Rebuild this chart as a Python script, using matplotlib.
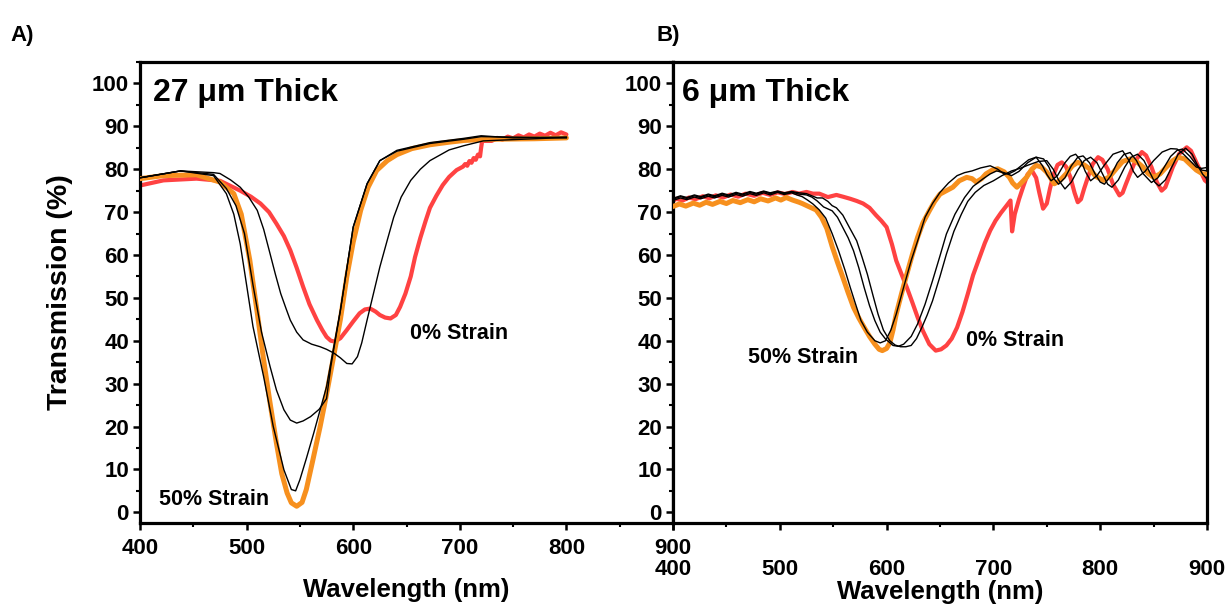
import matplotlib
matplotlib.use("Agg")
import matplotlib.pyplot as plt
from matplotlib.ticker import MultipleLocator

plt.rcParams['font.family'] = ['Liberation Sans', 'DejaVu Sans']
plt.rcParams['font.weight'] = 'bold'

# ---------------- Panel A : 27 um thick ----------------
a_red_x = [400, 422, 453, 475, 494, 504, 513, 521, 528, 535, 541, 547, 553, 559, 566, 571, 575, 579, 583, 588,
           594, 600, 606, 611, 616, 621, 625, 630, 635, 640, 644, 649, 654, 658, 663, 668, 672, 678, 684, 690,
           697, 703, 705, 707, 709, 711, 713, 715, 717, 719, 720, 721, 730, 735, 740, 745, 750, 755, 760, 765,
           770, 775, 780, 785, 790, 795, 800]
a_red_y = [76.2, 77.4, 77.8, 77.3, 75.0, 73.6, 72.0, 70.0, 67.3, 64.4, 61.1, 57.0, 52.6, 48.5, 44.8, 42.5, 40.9, 40.0, 39.8, 40.6,
           42.5, 44.5, 46.4, 47.3, 47.5, 46.8, 46.0, 45.4, 45.2, 46.0, 47.9, 51.0, 55.0, 59.5, 64.0, 68.0, 71.0, 73.8, 76.3, 78.2,
           79.8, 80.6, 81.2, 80.8, 81.9, 81.5, 82.6, 82.2, 83.4, 83.0, 85.0, 86.6, 86.6, 87.3, 86.9, 87.6, 87.2, 87.9, 87.4, 88.1,
           87.6, 88.3, 87.8, 88.5, 87.9, 88.6, 88.1]

a_orange_x = [400, 422, 453, 475, 488, 495, 503, 510, 516, 522, 528, 533, 538, 542, 547, 552, 556, 562, 569, 575,
              581, 588, 594, 600, 607, 614, 622, 632, 641, 655, 672, 690, 704, 720, 736, 770, 800]
a_orange_y = [77.8, 78.5, 78.7, 77.0, 74.3, 69.5, 58.8, 46.5, 35.5, 25.5, 16.1, 9.0, 4.5, 2.2, 1.4, 2.3, 5.3, 12.0, 20.0, 27.5,
              35.5, 45.0, 54.9, 63.0, 70.4, 75.8, 79.7, 82.0, 83.4, 84.8, 85.7, 86.3, 86.7, 86.9, 87.0, 87.1, 87.3]

a_blk1_x = [400, 438, 469, 481, 488, 494, 500, 506, 516, 525, 535, 542, 546, 550, 556, 563, 575, 588, 600, 613,
            625, 641, 672, 704, 720, 750, 800]
a_blk1_y = [78.0, 79.6, 78.5, 74.3, 69.5, 62.6, 53.0, 43.3, 31.6, 20.0, 9.9, 5.3, 5.0, 7.6, 12.5, 18.5, 29.3, 47.1, 66.5, 76.6,
            82.0, 84.4, 86.2, 87.2, 87.8, 87.3, 87.5]

a_blk2_x = [400, 438, 469, 481, 490, 498, 506, 514, 522, 528, 535, 541, 547, 553, 560, 568, 575, 579, 588, 600,
            613, 625, 641, 672, 704, 720, 800]
a_blk2_y = [78.0, 79.6, 78.8, 75.5, 71.5, 65.0, 53.0, 42.0, 34.0, 28.5, 23.9, 21.5, 20.8, 21.3, 22.3, 24.0, 26.5, 34.0, 47.1, 66.5,
            76.6, 82.0, 84.2, 86.0, 87.0, 87.6, 87.3]

a_blk3_x = [400, 438, 469, 475, 485, 494, 502, 510, 516, 522, 527, 532, 537, 541, 547, 553, 561, 569, 575, 582,
            588, 594, 599, 604, 608, 613, 619, 625, 632, 638, 645, 654, 663, 672, 690, 704, 722, 760, 800]
a_blk3_y = [78.0, 79.6, 79.2, 79.0, 77.5, 75.8, 73.5, 70.4, 66.0, 60.3, 55.5, 51.0, 47.5, 44.8, 42.0, 40.2, 39.2, 38.6, 38.0, 37.1,
            36.0, 34.7, 34.6, 36.3, 39.5, 44.8, 51.0, 57.2, 63.5, 68.8, 73.5, 77.4, 80.0, 82.0, 84.5, 85.5, 86.6, 87.0, 87.4]

# ---------------- Panel B : 6 um thick ----------------
b_red_x = [400, 403, 409, 415, 421, 428, 434, 440, 447, 454, 461, 468, 476, 484, 491, 498, 505, 512, 518, 525,
           531, 537, 545, 553, 559, 566, 572, 578, 584, 590, 595, 600, 605, 609, 614, 619, 624, 629, 634, 640,
           646, 651, 656, 661, 666, 671, 676, 681, 687, 692, 697, 702, 707, 712, 716, 717.5, 720, 724, 728, 732,
           736, 740, 743, 746.5, 750, 753, 756, 760, 764, 768, 772, 776, 779, 782, 785, 789, 793, 798, 802, 807,
           812, 818, 821, 824, 828, 833, 839, 843, 848, 853, 857.5, 861, 864, 868, 874, 881, 885, 890, 894, 898,
           900]
b_red_y = [72.6, 73.1, 72.7, 73.4, 73.0, 73.7, 73.2, 73.9, 73.4, 74.1, 73.6, 74.3, 73.8, 74.5, 74.0, 74.6, 74.2, 74.7, 74.3, 74.7,
           74.3, 74.3, 73.5, 74.0, 73.6, 73.1, 72.6, 72.0, 71.0, 69.3, 68.0, 66.5, 62.5, 58.7, 55.5, 52.4, 49.0, 45.5, 42.3, 39.2,
           37.7, 38.0, 38.9, 40.5, 43.1, 46.7, 50.9, 55.3, 59.4, 62.8, 65.7, 68.0, 69.8, 71.4, 72.7, 65.5, 69.5, 73.0, 76.0, 78.8,
           79.7, 78.0, 74.5, 70.8, 72.0, 75.5, 78.5, 81.0, 81.6, 80.6, 78.2, 74.5, 72.3, 73.0, 75.5, 78.5, 81.2, 82.8, 82.2, 80.0,
           76.5, 73.9, 74.5, 76.5, 79.0, 82.0, 84.0, 83.2, 80.5, 77.0, 75.0, 75.8, 77.8, 80.5, 83.6, 85.1, 84.3, 81.6, 79.5, 77.4,
           77.0]

b_orange_x = [400, 406, 412, 419, 425, 431, 437, 444, 450, 456, 463, 470, 476, 482, 489, 496, 501, 506, 512, 518,
              521, 527, 534, 539, 544, 549, 554, 559, 564, 569, 574, 579, 584, 589, 593, 596, 600, 603, 606, 609,
              614, 619, 624, 629, 634, 640, 645, 650, 656, 662, 668, 675, 680, 684, 689, 693, 699, 704, 710, 715,
              718, 722, 726, 731, 736, 740, 745, 750, 754, 757, 762, 768, 774, 779, 785, 790, 796, 803, 809, 815,
              821, 828, 834, 840, 845, 850, 856, 862, 868, 873, 879, 884, 890, 896, 900]
b_orange_y = [71.3, 71.9, 71.4, 72.1, 71.6, 72.3, 71.8, 72.5, 72.0, 72.7, 72.2, 72.9, 72.4, 73.1, 72.6, 73.3, 72.8, 73.4, 72.8, 72.3,
              72.0, 71.3, 70.5, 68.8, 66.2, 62.0, 58.3, 54.8, 51.2, 47.8, 45.3, 43.1, 41.0, 39.2, 38.0, 37.7, 38.2, 39.5, 42.5, 46.2,
              51.0, 55.6, 60.0, 64.1, 67.5, 70.3, 72.5, 74.2, 75.0, 75.8, 77.3, 78.1, 77.8, 77.0, 77.8, 78.9, 79.8, 80.1, 79.4, 78.1,
              76.8, 75.8, 76.8, 78.1, 80.0, 80.9, 80.5, 79.3, 77.8, 76.6, 77.3, 78.9, 80.8, 81.6, 81.0, 80.1, 78.3, 77.4, 78.3, 80.1,
              81.8, 82.4, 81.8, 80.5, 79.0, 78.1, 78.9, 80.5, 82.0, 82.8, 82.4, 81.2, 79.8, 78.9, 78.9]

b_blk1_x = [400, 407, 413, 420, 426, 433, 439, 446, 452, 459, 465, 472, 478, 485, 491, 498, 504, 511, 516, 521,
            526, 531, 537, 543, 549, 555, 561, 566, 571, 576, 582, 589, 594, 599, 604, 609, 616, 623, 630, 636,
            643, 650, 658, 666, 673, 680, 688, 697, 704, 710, 715, 720, 726, 733, 740, 746, 750, 754, 760, 767,
            772, 777, 782, 786, 791, 797, 804, 812, 821, 827, 831, 835, 842, 850, 858, 866, 872, 878, 884, 890,
            895, 900]
b_blk1_y = [72.7, 73.3, 72.9, 73.5, 73.1, 73.7, 73.3, 73.9, 73.5, 74.1, 73.7, 74.3, 73.9, 74.5, 74.0, 74.6, 74.1, 74.5, 74.0, 73.6,
            72.8, 71.9, 70.5, 68.6, 65.0, 61.0, 56.5, 52.4, 48.5, 44.7, 42.0, 40.0, 39.5, 40.0, 42.5, 46.2, 52.5, 58.7, 64.0, 68.8,
            72.0, 74.6, 76.8, 78.5, 79.2, 79.6, 80.3, 80.8, 80.0, 78.9, 79.0, 79.6, 80.8, 82.2, 82.8, 80.8, 78.8, 77.3, 78.5, 81.5,
            83.0, 83.5, 82.0, 79.5, 77.3, 78.5, 81.0, 83.5, 84.3, 82.0, 79.5, 78.1, 79.5, 82.0, 84.0, 84.8, 84.7, 83.5, 82.0, 80.5,
            80.2, 80.4]

b_blk2_x = [400, 407, 413, 420, 426, 433, 439, 446, 452, 459, 465, 472, 478, 485, 491, 498, 504, 511, 518, 525,
            530, 535, 541, 549, 554, 559, 564, 569, 574, 579, 584, 589, 594, 599, 606, 611, 616, 623, 629, 636,
            643, 650, 656, 664, 673, 681, 690, 697, 703, 710, 717, 724, 732, 740, 747, 752, 756, 761, 767, 773,
            779, 784, 790, 795, 800, 804, 810, 816, 822, 828, 834, 840, 848, 854, 860, 866, 872, 877, 884, 890,
            895, 900]
b_blk2_y = [73.0, 73.6, 73.2, 73.8, 73.4, 74.0, 73.6, 74.2, 73.8, 74.4, 74.0, 74.6, 74.2, 74.8, 74.3, 74.8, 74.3, 74.7, 74.2, 74.0,
            73.5, 72.6, 71.2, 70.3, 68.8, 66.4, 64.0, 61.0, 57.0, 52.4, 48.2, 44.7, 42.0, 40.4, 38.9, 38.7, 39.2, 41.0, 43.9, 48.5,
            54.0, 59.8, 64.9, 69.5, 73.4, 76.0, 77.7, 78.9, 79.6, 79.2, 78.5, 79.5, 81.5, 82.8, 82.4, 80.5, 78.0, 76.5, 78.0, 80.8,
            82.8, 83.1, 81.5, 79.0, 77.0, 76.5, 78.5, 81.5, 83.4, 83.9, 82.0, 79.0, 76.9, 78.0, 80.5, 83.0, 84.4, 84.7, 83.0, 81.0,
            79.8, 79.6]

b_blk3_x = [400, 407, 413, 420, 426, 433, 439, 446, 452, 459, 465, 472, 478, 485, 491, 498, 504, 511, 518, 525,
            530, 535, 540, 545, 549, 553, 559, 565, 572, 577, 582, 587, 592, 597, 603, 608, 613, 618, 623, 628,
            633, 638, 643, 650, 656, 663, 670, 676, 683, 691, 700, 708, 717, 725, 733, 742, 750, 756, 761, 767,
            773, 779, 785, 791, 797, 803, 807, 811, 817, 823, 829, 835, 841, 847, 851, 855, 861, 867, 873, 880,
            886, 891, 896, 900]
b_blk3_y = [73.2, 73.8, 73.4, 74.0, 73.6, 74.2, 73.8, 74.4, 74.0, 74.6, 74.2, 74.8, 74.4, 74.9, 74.5, 74.9, 74.5, 74.8, 74.5, 74.3,
            73.8, 73.3, 73.3, 72.5, 71.5, 71.0, 69.3, 66.5, 63.3, 59.5, 55.5, 50.8, 46.2, 42.5, 40.0, 39.0, 38.6, 38.6, 38.9, 40.5,
            43.1, 46.0, 49.3, 55.0, 60.2, 65.5, 69.5, 72.5, 74.6, 76.2, 77.3, 78.5, 79.6, 80.2, 81.0, 81.8, 82.0, 80.0, 77.5, 75.4,
            77.0, 79.8, 82.0, 82.8, 81.5, 78.5, 76.5, 75.8, 77.5, 80.5, 82.8, 83.5, 82.0, 79.0, 77.0, 76.1, 77.5, 80.5, 83.5, 84.9,
            83.5, 81.0, 78.8, 77.7]

xticks = [400, 500, 600, 700, 800, 900]
yticks = [0, 10, 20, 30, 40, 50, 60, 70, 80, 90, 100]

RED = '#ff4242'
ORANGE = '#f7901e'

fig = plt.figure(figsize=(12.26, 6.06), dpi=100)
W, H = 1226, 606
axA = fig.add_axes([140 / W, (H - 523) / H, 533 / W, 461 / H])
axB = fig.add_axes([673 / W, (H - 523) / H, 534 / W, 461 / H])


def style(ax, xpad):
    ax.set_xlim(400, 900)
    ax.set_ylim(-2.5, 105)
    ax.set_xticks(xticks)
    ax.set_yticks(yticks)
    ax.xaxis.set_minor_locator(MultipleLocator(50))
    ax.yaxis.set_minor_locator(MultipleLocator(5))
    ax.tick_params(axis='both', which='major', direction='out', length=5, width=1.8, labelsize=16)
    ax.tick_params(axis='both', which='minor', direction='out', length=3, width=1.5)
    ax.tick_params(axis='x', which='major', pad=xpad)
    ax.tick_params(axis='y', which='major', pad=3)
    for s in ax.spines.values():
        s.set_linewidth(2.3)
    for lab in ax.get_xticklabels() + ax.get_yticklabels():
        lab.set_fontweight('bold')


for ax, red, orange, blks in [
    (axA, (a_red_x, a_red_y), (a_orange_x, a_orange_y),
     [(a_blk1_x, a_blk1_y), (a_blk2_x, a_blk2_y), (a_blk3_x, a_blk3_y)]),
    (axB, (b_red_x, b_red_y), (b_orange_x, b_orange_y),
     [(b_blk1_x, b_blk1_y), (b_blk2_x, b_blk2_y), (b_blk3_x, b_blk3_y)]),
]:
    ax.plot(*red, color=RED, lw=3.0, solid_joinstyle='round', solid_capstyle='round', zorder=2)
    ax.plot(*orange, color=ORANGE, lw=3.6, solid_joinstyle='round', solid_capstyle='round', zorder=3)
    for bx, by in blks:
        ax.plot(bx, by, color='black', lw=1.0, solid_joinstyle='round', zorder=4)

style(axA, 6)
style(axB, 21.2)

axA.set_ylabel('Transmission (%)', fontsize=20.5, fontweight='bold')
axA.yaxis.set_label_coords(-0.126, 0.5)
axA.set_xlabel('Wavelength (nm)', fontsize=18.5, fontweight='bold', va='center')
axA.xaxis.set_label_coords(0.5, -0.145)
axB.set_xlabel('Wavelength (nm)', fontsize=18.5, fontweight='bold', va='bottom')
axB.xaxis.set_label_coords(0.5, -(604.5 - 523) / 461)

axA.text(412, 97.8, '27 \u03bcm Thick', fontsize=23, fontweight='bold', ha='left', va='center')
axB.text(408, 97.8, '6 \u03bcm Thick', fontsize=23, fontweight='bold', ha='left', va='center')
axA.text(653, 41.8, '0% Strain', fontsize=15.5, fontweight='bold', ha='left', va='center')
axA.text(418, 3.0, '50% Strain', fontsize=15.5, fontweight='bold', ha='left', va='center')
axB.text(470, 36.2, '50% Strain', fontsize=15.5, fontweight='bold', ha='left', va='center')
axB.text(674, 40.1, '0% Strain', fontsize=15.5, fontweight='bold', ha='left', va='center')

fig.text(10 / W, 1 - 35 / H, 'A)', fontsize=16, fontweight='bold', ha='left', va='center')
fig.text(656 / W, 1 - 35 / H, 'B)', fontsize=16, fontweight='bold', ha='left', va='center')

fig.savefig('out.png', dpi=100, facecolor='white')
